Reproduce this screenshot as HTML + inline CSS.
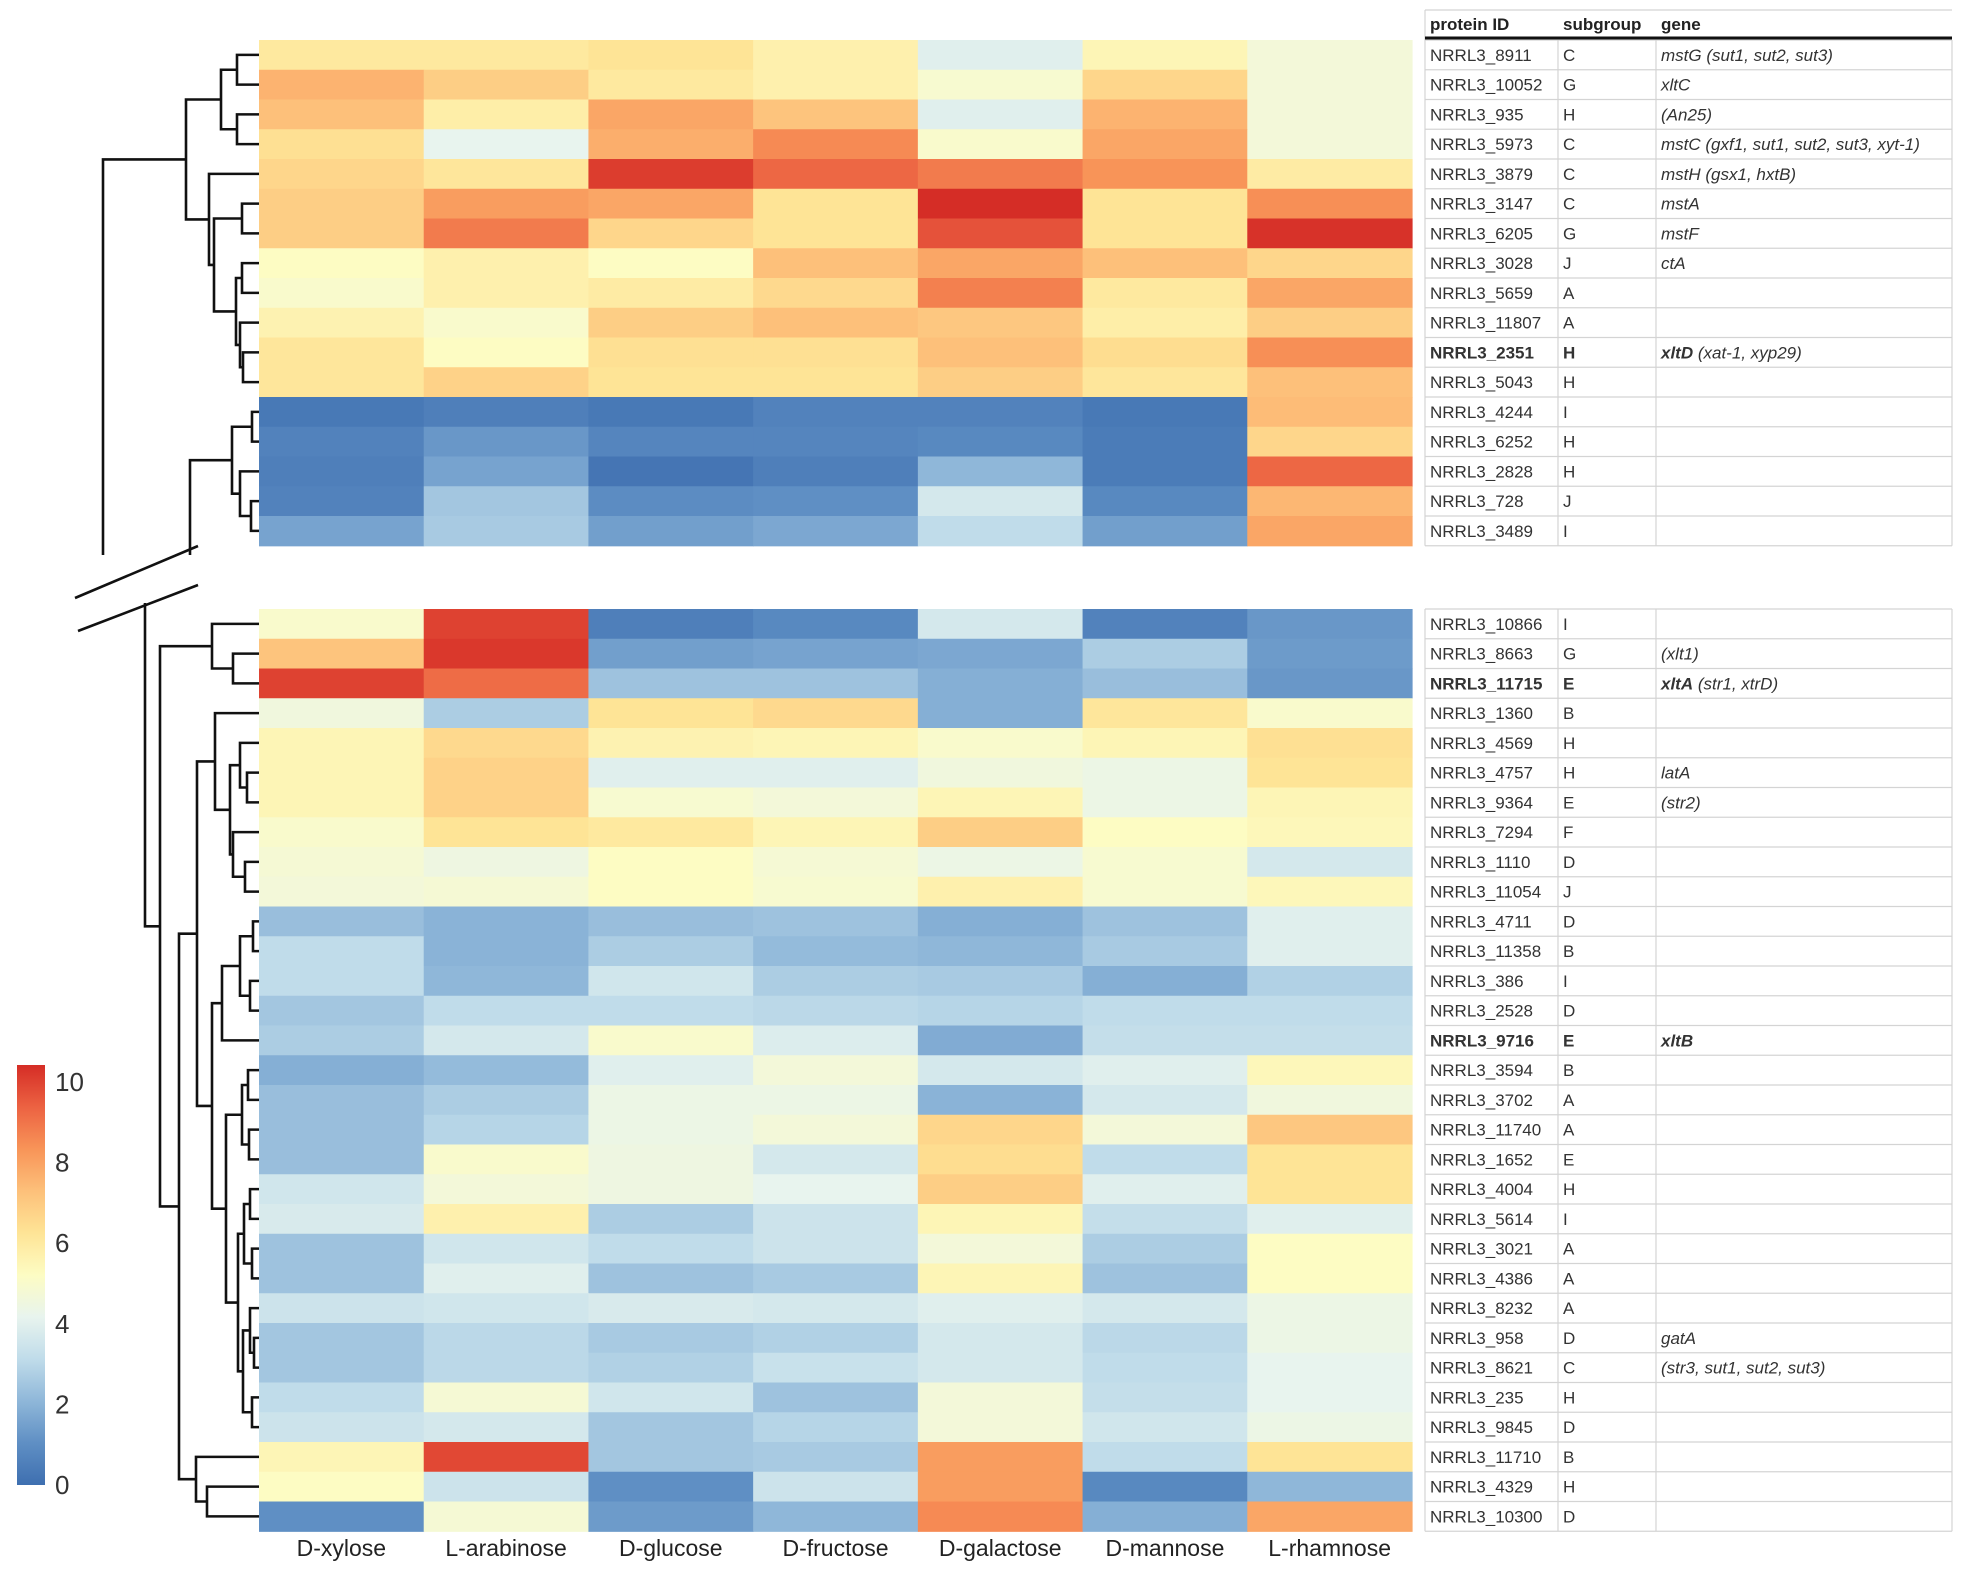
<!DOCTYPE html>
<html><head><meta charset="utf-8">
<style>
html,body{margin:0;padding:0;background:#fff;}
body{width:1962px;height:1574px;overflow:hidden;font-family:"Liberation Sans",sans-serif;}
svg text{font-family:"Liberation Sans",sans-serif;}
</style></head>
<body>
<svg id="chart" width="1962" height="1574" xmlns="http://www.w3.org/2000/svg"></svg>
<script>
const sugars = ["D-xylose","L-arabinose","D-glucose","D-fructose","D-galactose","D-mannose","L-rhamnose"];
const topIds = ["NRRL3_8911","NRRL3_10052","NRRL3_935","NRRL3_5973","NRRL3_3879","NRRL3_3147","NRRL3_6205","NRRL3_3028","NRRL3_5659","NRRL3_11807","NRRL3_2351","NRRL3_5043","NRRL3_4244","NRRL3_6252","NRRL3_2828","NRRL3_728","NRRL3_3489"];
const topSub = ["C","G","H","C","C","C","G","J","A","A","H","H","I","H","H","J","I"];
const topGene = ["mstG (sut1, sut2, sut3)","xltC","(An25)","mstC (gxf1, sut1, sut2, sut3, xyt-1)","mstH (gsx1, hxtB)","mstA","mstF","ctA","","","xltD|(xat-1, xyp29)","","","","","",""];
const topBold = [10];
const topValues = [
[5.8,5.8,6.0,5.5,3.8,5.3,4.5],
[7.3,6.6,5.8,5.5,4.7,6.4,4.5],
[7.0,5.6,7.6,6.9,3.8,7.3,4.5],
[6.1,4.0,7.4,8.2,4.8,7.6,4.5],
[6.4,5.9,9.7,8.9,8.5,8.0,5.7],
[6.6,7.8,7.6,6.0,10,6.0,8.1],
[6.6,8.5,6.4,6.0,9.3,6.0,9.9],
[5.0,5.5,5.0,7.0,7.6,7.0,6.4],
[4.8,5.5,5.7,6.3,8.4,5.8,7.6],
[5.4,4.8,6.6,7.0,6.8,5.6,6.6],
[5.9,5.0,6.1,6.1,7.0,6.2,8.1],
[5.9,6.5,6.0,6.0,6.6,5.9,7.0],
[0.3,0.5,0.3,0.6,0.6,0.3,7.1],
[0.6,1.2,0.7,0.7,0.8,0.4,6.4],
[0.5,1.5,0.2,0.5,2.0,0.4,8.9],
[0.6,2.4,0.9,1.0,3.5,0.8,7.2],
[1.5,2.5,1.4,1.6,3.0,1.4,7.6]];
const botIds = ["NRRL3_10866","NRRL3_8663","NRRL3_11715","NRRL3_1360","NRRL3_4569","NRRL3_4757","NRRL3_9364","NRRL3_7294","NRRL3_1110","NRRL3_11054","NRRL3_4711","NRRL3_11358","NRRL3_386","NRRL3_2528","NRRL3_9716","NRRL3_3594","NRRL3_3702","NRRL3_11740","NRRL3_1652","NRRL3_4004","NRRL3_5614","NRRL3_3021","NRRL3_4386","NRRL3_8232","NRRL3_958","NRRL3_8621","NRRL3_235","NRRL3_9845","NRRL3_11710","NRRL3_4329","NRRL3_10300"];
const botSub = ["I","G","E","B","H","H","E","F","D","J","D","B","I","D","E","B","A","A","E","H","I","A","A","A","D","C","H","D","B","H","D"];
const botGene = ["","(xlt1)","xltA|(str1, xtrD)","","","latA","(str2)","","","","","","","","xltB|","","","","","","","","","","gatA","(str3, sut1, sut2, sut3)","","","","",""];
const botBold = [2,14];
const botValues = [
[4.8,9.6,0.5,0.8,3.5,0.6,1.2],
[6.9,9.8,1.4,1.5,1.6,2.6,1.3],
[9.6,8.8,2.3,2.3,1.8,2.2,1.2],
[4.4,2.6,6.0,6.3,1.8,5.9,4.8],
[5.3,6.3,5.4,5.3,4.8,5.3,6.1],
[5.3,6.5,3.8,3.8,4.4,4.2,6.0],
[5.3,6.5,4.7,4.5,5.3,4.2,5.3],
[4.8,6.0,5.8,5.3,6.6,5.0,5.2],
[4.6,4.3,5.0,4.6,4.2,4.7,3.5],
[4.5,4.6,5.0,4.7,5.5,4.7,5.2],
[2.2,1.9,2.2,2.3,1.8,2.3,3.8],
[3.0,1.9,2.6,2.1,2.0,2.5,3.8],
[3.0,2.0,3.4,2.6,2.5,1.8,2.7],
[2.4,3.0,3.0,2.9,2.8,3.0,3.0],
[2.6,3.5,4.8,3.7,1.7,3.1,3.1],
[1.8,2.1,3.8,4.5,3.5,3.8,5.2],
[2.2,2.6,4.2,4.2,1.9,3.5,4.4],
[2.2,2.8,4.2,4.5,6.4,4.5,6.8],
[2.2,4.8,4.3,3.5,6.2,3.0,6.0],
[3.4,4.5,4.3,4.0,6.6,3.8,6.0],
[3.6,5.5,2.6,3.3,5.3,3.1,3.8],
[2.3,3.4,3.0,3.3,4.5,2.6,5.0],
[2.3,3.8,2.3,2.5,5.3,2.3,5.0],
[3.3,3.4,3.6,3.5,3.8,3.5,4.2],
[2.4,2.9,2.5,2.7,3.5,2.9,4.2],
[2.4,2.9,2.7,3.2,3.5,3.0,4.0],
[3.0,4.6,3.4,2.3,4.5,3.1,4.0],
[3.3,3.5,2.4,2.8,4.5,3.4,4.2],
[5.3,9.5,2.4,2.5,7.8,3.0,6.0],
[5.0,3.3,1.0,3.3,7.8,0.8,2.0],
[1.0,4.6,1.3,2.0,8.2,1.8,7.6]];
const cbTicks = [0,2,4,6,8,10];

const NS="http://www.w3.org/2000/svg";
const svg=document.getElementById('chart');
function mk(tag,attrs,parent){const e=document.createElementNS(NS,tag);for(const k in attrs)e.setAttribute(k,attrs[k]);(parent||svg).appendChild(e);return e;}
const stops=[[0,[62,111,176]],[1,[95,143,196]],[2,[143,183,217]],[3,[192,220,234]],[4,[232,244,238]],[5,[253,252,195]],[6,[254,228,150]],[7,[253,192,122]],[8,[248,148,88]],[9,[236,98,66]],[10,[213,45,38]]];
function color(v){v=Math.max(0,Math.min(10,v));const i=Math.min(9,Math.floor(v));const t=v-i;const a=stops[i][1],b=stops[i+1][1];return `rgb(${a.map((c,k)=>Math.round(c+(b[k]-c)*t)).join(',')})`;}
const X0=259,CW=(1412-259)/7,RH=29.75;
const xScale=c=>X0+c*CW;
const TOP0=40,BOT0=609;
function drawBlock(vals,y0,name){
  const g=mk('g',{});
  
  
  vals.forEach((row,r)=>row.forEach((v,c)=>{
    const rc=mk('rect',{x:xScale(c),y:y0+r*RH,width:CW+0.6,height:RH+0.6,fill:color(v)},g);
    
    
  }));
}
drawBlock(topValues,TOP0,'heatmap-top-block');
drawBlock(botValues,BOT0,'heatmap-bottom-block');
// column labels
sugars.forEach((s,c)=>{const t=mk('text',{x:xScale(c)+CW/2,y:1556,'text-anchor':'middle','font-size':23,fill:'#222'});t.textContent=s;

});
// table
function drawTable(ids,subs,genes,bolds,y0,name){
  const g=mk('g',{});
  
  
  const n=ids.length;
  for(let i=0;i<=n;i++){mk('line',{x1:1425,x2:1952,y1:y0+i*RH,y2:y0+i*RH,stroke:'#d4d4d4','stroke-width':1.2},g);}
  [1425,1558,1656,1952].forEach(x=>mk('line',{x1:x,x2:x,y1:y0,y2:y0+n*RH,stroke:'#d4d4d4','stroke-width':1.2},g));
  ids.forEach((id,i)=>{
    const y=y0+i*RH+RH/2+6;const b=bolds.includes(i);
    const t1=mk('text',{x:1430,y:y,'font-size':17,fill:'#333','font-weight':b?'bold':'normal'},g);t1.textContent=id;
    
    
    const t2=mk('text',{x:1563,y:y,'font-size':17,fill:'#333','font-weight':b?'bold':'normal'},g);t2.textContent=subs[i];
    
    
    if(genes[i]){
      const t3=mk('text',{x:1661,y:y,'font-size':17,fill:'#333','font-style':'italic'},g);
      
      
      if(genes[i].includes('|')){const p=genes[i].split('|');
        const s1=mk('tspan',{'font-weight':'bold'},t3);s1.textContent=p[0];
        const s2=mk('tspan',{},t3);s2.textContent=p[1]?'  '+p[1]:'';}
      else t3.textContent=genes[i];
    }
  });
}
// header
[["protein ID",1430],["subgroup",1563],["gene",1661]].forEach(([s,x])=>{const t=mk('text',{x:x,y:30,'font-size':17,'font-weight':'bold',fill:'#222'});t.textContent=s;

});
mk('line',{x1:1425,x2:1952,y1:10,y2:10,stroke:'#d4d4d4','stroke-width':1.2});
mk('line',{x1:1425,x2:1425,y1:10,y2:40,stroke:'#d4d4d4','stroke-width':1.2});
drawTable(topIds,topSub,topGene,topBold,TOP0,'table-top');
drawTable(botIds,botSub,botGene,botBold,BOT0,'table-bottom');
mk('line',{x1:1425,x2:1952,y1:38,y2:38,stroke:'#111','stroke-width':3});
// dendrograms
const treeA=[186,[221,[237,0,1],[237,2,3]],[209,4,[214,[242,5,6],[236,[242,7,8],[240,9,[243,10,11]]]]]];
const treeB=[232,[252,12,13],[240,14,[251,15,16]]];
const treeC=[160,[212,0,[233,1,2]],[179,[197,[215,3,[230,[240,4,[247,5,6]],[233,7,[245,8,9]]]],[212,[222,[240,[253,10,11],[250,12,13]],14],[226,[242,[248,15,16],[249,17,18]],[238,[244,[250,19,20],[252,21,22]],[243,[250,23,[254,24,25]],[252,26,27]]]]]],[196,28,[207,29,30]]]];
const dg=mk('g',{fill:'none',stroke:'#111','stroke-width':2.6});


function drawTree(node,y0){
  if(typeof node==='number')return{x:X0,y:y0+(node+0.5)*RH};
  const a=drawTree(node[1],y0),b=drawTree(node[2],y0),x=node[0];
  mk('path',{d:`M${a.x},${a.y}H${x}V${b.y}H${b.x}`},dg);
  return{x:x,y:(a.y+b.y)/2};
}
const A=drawTree(treeA,TOP0),B=drawTree(treeB,TOP0),C=drawTree(treeC,BOT0);
mk('path',{d:`M${A.x},${A.y}H103V555`},dg);
mk('path',{d:`M${B.x},${B.y}H190V555`},dg);
mk('path',{d:`M${C.x},${C.y}H145V603`},dg);
mk('line',{x1:75,y1:598,x2:198,y2:546},dg);
mk('line',{x1:78,y1:631,x2:198,y2:585},dg);
// colorbar
const defs=mk('defs',{});const lg=mk('linearGradient',{id:'cb',x1:0,y1:1,x2:0,y2:0},defs);
stops.forEach(s=>mk('stop',{offset:s[0]*10+'%','stop-color':color(s[0])},lg));
const cb=mk('rect',{x:17,y:1065,width:28,height:420,fill:'url(#cb)'});


const cbY=v=>1485-v/10*403-0;
cbTicks.forEach(v=>{const t=mk('text',{x:55,y:cbY(v)+9,'font-size':26,fill:'#333'});t.textContent=v;

});
</script>
</body></html>
